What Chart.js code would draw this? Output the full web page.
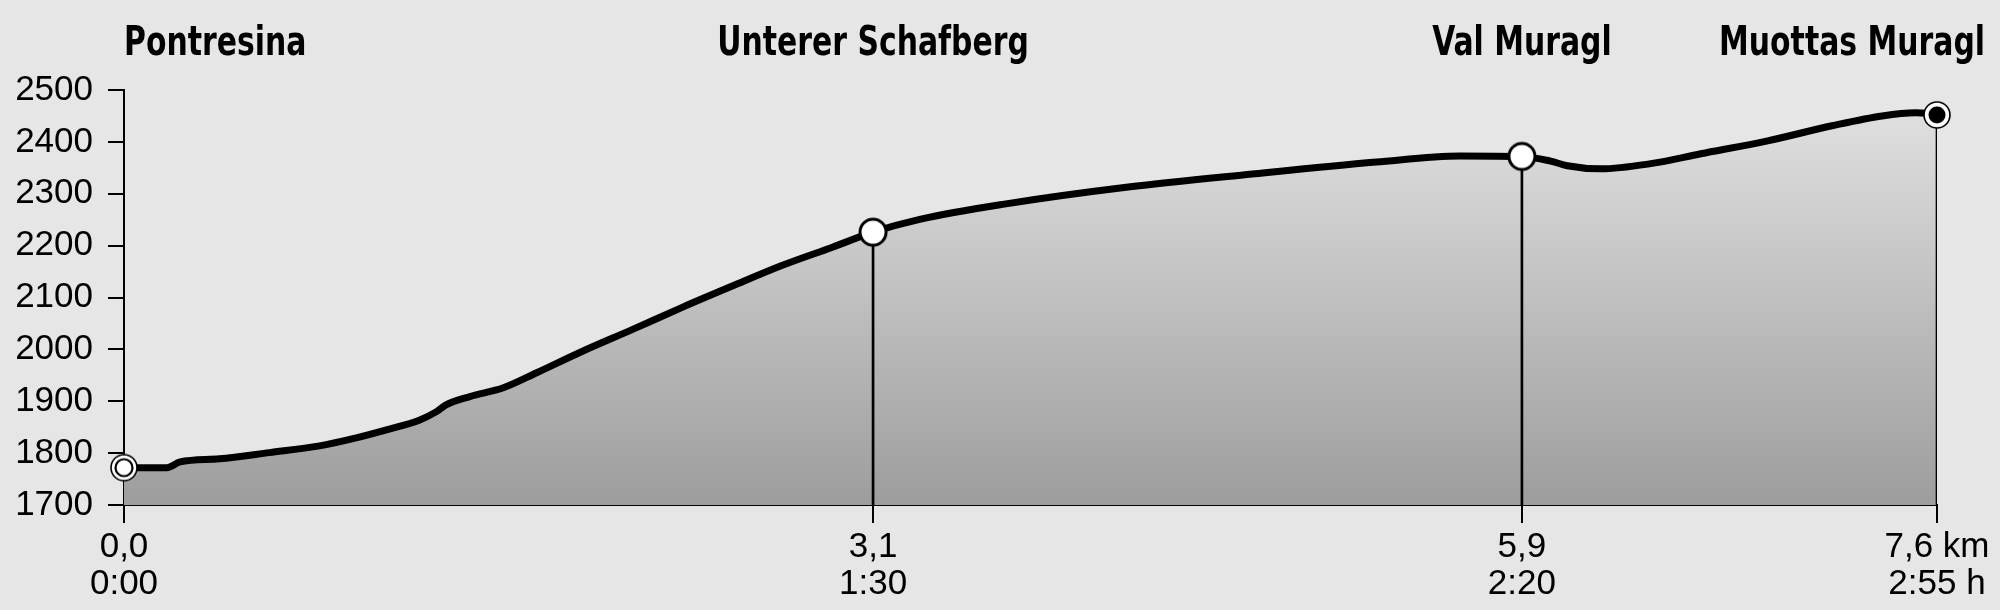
<!DOCTYPE html>
<html>
<head>
<meta charset="utf-8">
<script src="https://cdn.jsdelivr.net/npm/chart.js@4/dist/chart.umd.min.js"></script>
<style>
  html, body { margin: 0; padding: 0; background: #e6e6e6; }
  #wrap { width: 2000px; height: 610px; }
</style>
</head>
<body>
<div id="wrap"><canvas id="profile" width="2000" height="610"></canvas></div>
<script>
// elevation profile: distance in km, elevation in m
var distKm = [0, 0.18, 0.235, 0.40, 0.61, 0.82, 0.96, 1.10, 1.24, 1.31, 1.35, 1.45, 1.59, 1.73, 1.92, 2.13, 2.34, 2.55, 2.76, 2.97, 3.14, 3.34, 3.69, 4.21, 4.73, 5.25, 5.60, 5.86, 5.98, 6.05, 6.19, 6.40, 6.61, 6.89, 7.16, 7.37, 7.51, 7.6];
var elevM  = [1772, 1772, 1783, 1789, 1801, 1814, 1828, 1845, 1864, 1880, 1893, 1909, 1926, 1955, 1996, 2038, 2081, 2122, 2162, 2197, 2226, 2251, 2280, 2313, 2338, 2361, 2373, 2372, 2363, 2354, 2348, 2358, 2377, 2402, 2431, 2450, 2456, 2454];

// waypoints
var wpNames = ["Pontresina", "Unterer Schafberg", "Val Muragl", "Muottas Muragl"];
var wpKm    = [0, 3.14, 5.86, 7.6];
var wpElev  = [1772, 2226, 2372, 2452];
var wpDist  = ["0,0", "3,1", "5,9", "7,6 km"];
var wpTime  = ["0:00", "1:30", "2:20", "2:55 h"];

var elevMin = 1700, elevMax = 2500, elevStep = 100;

var numFont = '"Liberation Sans", Arial, sans-serif';
var nameFont = 'bold 40px "DejaVu Sans Condensed", "Liberation Sans Narrow", sans-serif';
var nameSquash = 0.83; // the original lettering is narrower than any installed font

function makeMarker(kind) {
  var cv = document.createElement("canvas");
  cv.width = 32; cv.height = 32;
  var c = cv.getContext("2d");
  c.lineWidth = 1.6;
  c.strokeStyle = "#000";
  c.fillStyle = "#fff";
  if (kind == "mid") {
    c.beginPath(); c.arc(16, 16, 13, 0, Math.PI * 2);
    c.fill(); c.lineWidth = 3; c.stroke();
  } else {
    c.beginPath(); c.arc(16, 16, 13, 0, Math.PI * 2);
    c.fill(); c.stroke();
    if (kind == "start") {
      c.beginPath(); c.arc(16, 16, 8.5, 0, Math.PI * 2);
      c.lineWidth = 2.2; c.stroke();
    } else {
      c.beginPath(); c.arc(16, 16, 8.5, 0, Math.PI * 2);
      c.fillStyle = "#000"; c.fill();
    }
  }
  return cv;
}
var markerStyles = [makeMarker("start"), makeMarker("mid"), makeMarker("mid"), makeMarker("end")];

var profilePts = distKm.map(function (d, i) { return { x: d, y: elevM[i] }; });
var wpPts = wpKm.map(function (d, i) { return { x: d, y: wpElev[i] }; });
// thin floating bars as drop lines from the waypoints down to the axis
var dropPts = wpKm.slice(1).map(function (d, i) { return { x: d, y: [elevMin, wpElev[i + 1]] }; });

// waypoint names above the chart
var namesPlugin = {
  id: "names",
  afterDraw: function (chart) {
    var c = chart.ctx, xs = chart.scales.x, ca = chart.chartArea;
    c.save();
    c.font = nameFont;
    c.fillStyle = "#000";
    c.textBaseline = "alphabetic";
    wpNames.forEach(function (n, i) {
      var w = c.measureText(n).width * nameSquash;
      var left = xs.getPixelForValue(wpKm[i]) - w / 2;
      left = Math.max(ca.left, Math.min(left, chart.width - 15 - w));
      c.save();
      c.translate(left, 55);
      c.scale(nameSquash, 1);
      c.fillText(n, 0, 0);
      c.restore();
    });
    c.restore();
  }
};

new Chart(document.getElementById("profile"), {
  type: "line",
  data: {
    datasets: [{
      data: wpPts,
      showLine: false,
      pointStyle: markerStyles,
      clip: false,
      order: 0
    }, {
      type: "bar",
      data: dropPts,
      backgroundColor: "#000",
      barThickness: 2,
      order: 1
    }, {
      data: profilePts,
      borderColor: "#000",
      borderWidth: 7,
      pointRadius: 0,
      cubicInterpolationMode: "monotone",
      fill: "start",
      backgroundColor: function (ctx) {
        var ca = ctx.chart.chartArea;
        if (!ca) return "#bbbbbb";
        var g = ctx.chart.ctx.createLinearGradient(0, ca.top, 0, ca.bottom);
        g.addColorStop(0, "#e3e3e3");
        g.addColorStop(1, "#9d9d9d");
        return g;
      },
      order: 2
    }]
  },
  options: {
    responsive: false,
    animation: false,
    layout: { padding: { top: 90, right: 63, left: 0, bottom: 0 } },
    plugins: { legend: { display: false }, tooltip: { enabled: false } },
    scales: {
      x: {
        type: "linear",
        min: 0,
        max: 7.6,
        offset: false,
        afterBuildTicks: function (s) { s.ticks = wpKm.map(function (v) { return { value: v }; }); },
        afterFit: function (s) { s.height = 105; },
        ticks: {
          autoSkip: false,
          maxRotation: 0,
          padding: 6,
          color: "#000",
          font: { family: numFont, size: 35, lineHeight: 1.06 },
          callback: function (v, i) { return [wpDist[i], wpTime[i]]; }
        },
        grid: { drawOnChartArea: false, tickLength: 18, color: "#000", lineWidth: 2, offset: false },
        border: { display: true, color: "#000", width: 2 }
      },
      y: {
        min: elevMin,
        max: elevMax,
        afterFit: function (s) { s.width = 124; },
        ticks: {
          stepSize: elevStep,
          padding: 15,
          color: "#000",
          font: { family: numFont, size: 35 },
          callback: function (v) { return String(v); }
        },
        grid: { drawOnChartArea: false, tickLength: 16, color: "#000", lineWidth: 2 },
        border: { display: true, color: "#000", width: 2 }
      }
    }
  },
  plugins: [namesPlugin]
});
</script>
</body>
</html>
